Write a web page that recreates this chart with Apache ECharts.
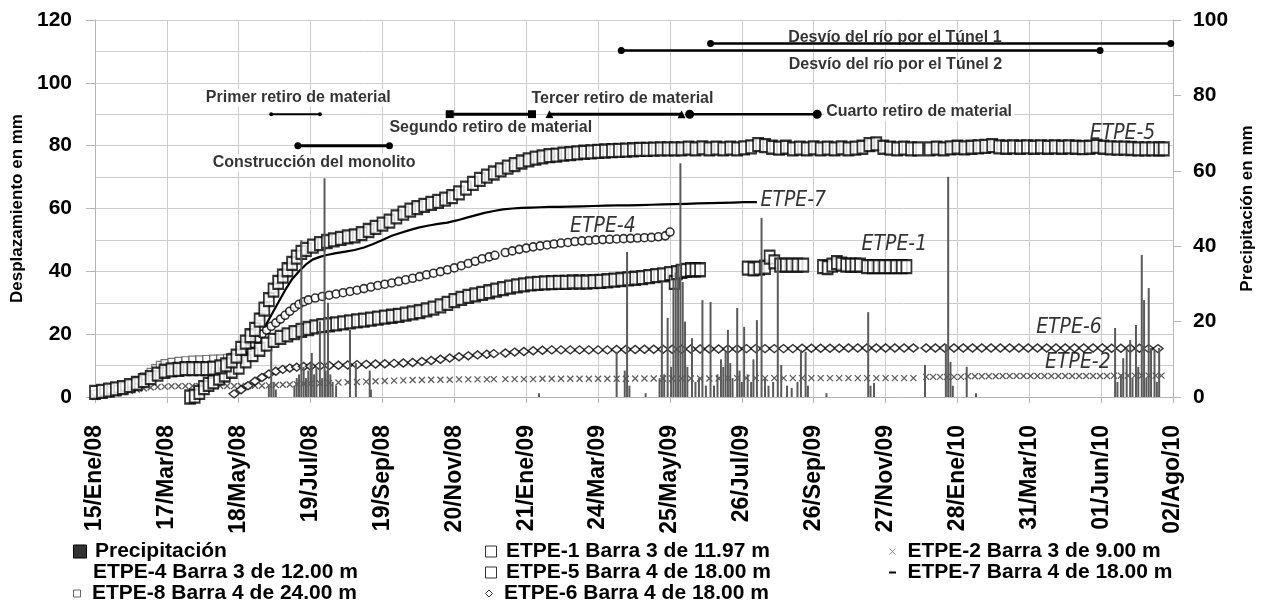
<!DOCTYPE html>
<html><head><meta charset="utf-8">
<script src="https://cdn.jsdelivr.net/npm/echarts/dist/echarts.min.js"></script>
<style>html,body{margin:0;padding:0;background:#fff}#c{width:1264px;height:605px}</style>
</head><body><div id="c"></div>
<script>
// ---------------- DATA (x = days since 15/Ene/08) ----------------
const tickLabels = ['15/Ene/08','17/Mar/08','18/May/08','19/Jul/08','19/Sep/08','20/Nov/08','21/Ene/09','24/Mar/09','25/May/09','26/Jul/09','26/Sep/09','27/Nov/09','28/Ene/10','31/Mar/10','01/Jun/10','02/Ago/10'];
const TICK_DAYS = 62;

const seriesNames = {
  precip: 'Precipitación',
  e1: 'ETPE-1 Barra 3 de 11.97 m',
  e2: 'ETPE-2 Barra 3 de 9.00 m',
  e4: 'ETPE-4 Barra 3 de 12.00 m',
  e5: 'ETPE-5 Barra 4 de 18.00 m',
  e7: 'ETPE-7 Barra 4 de 18.00 m',
  e8: 'ETPE-8 Barra 4 de 24.00 m',
  e6: 'ETPE-6 Barra 4 de 18.00 m'
};

const precipitacion = [
[150,3],[152,12],[154,4],[156,2],
[172,3],[174,5],[176,6],[178,41.6],[180,8],[182,5],[184,7],[186,9],[187,11.7],[189,6],[191,8],[194,20],[196,5],[198,58],[199,7],[201,25],[203,6],[205,4],[208,3],[220,17.8],[225,9],[237,7],[238,2],
[383,1],
[450,12],[457,7],[459,38.5],[461,3],[475,1],
[487,5],[489,30.5],[491,6],[494,21],[497,8],[499,31],[501,33],[503,35],[505,62],[507,30.5],[509,20],[511,8],[515,15.6],[518,4],[521,5],[524,25.7],[527,3],[531,25.2],[534,3],[537,6],[540,10],[542,8],[544,12],[546,17.8],[548,9],[550,5],[554,23.6],[556,7],[558,4],[560,18.6],[563,6],[566,4],[568,10],[571,20.4],[575,47.5],[578,5],[581,3],[585,4],[589,37.1],[592,8.5],[597,3],[601,2.4],[606,4],[609,12.5],[613,12],[615,3],[631,1],
[667,22.5],[669,3],[672,3.7],
[716,8.5],[734,14],[736,58.4],[738,9.3],[740,3],[752,8],[760,1],
[880,18.3],[882,4],[885,6],[887,10.3],[890,13],[893,15.1],[895,5],[898,19.1],[900,8],[903,37.7],[905,25.7],[907,5],[909,28.9],[911,13],[914,12.5],[916,4],[918,13]
];

const etpe5 = [
[0,1.5],[6,1.8],[12,2.2],[18,2.6],[24,3],[30,3.6],[36,4.3],[42,5.2],[48,6.2],[54,7.3],[60,8.2],[66,8.6],[72,8.8],[78,9],[84,9],[90,9],[96,9],[102,9.2],[108,9.6],[113,10.2],[118,11.5],[122,13],[126,15.5],[130,17.5],[134,19.5],[138,21.5],[142,24.5],[146,28],[150,31],[154,34],[158,36.5],[162,38.5],[166,40.5],[170,42.5],[174,44.5],[178,46],[182,47],[188,48],[194,48.8],[200,49.5],[206,50],[212,50.5],[218,51],[224,51.3],[230,52],[236,53],[242,54],[248,55],[254,56],[260,57.3],[266,58.5],[272,59.5],[278,60.3],[284,61],[290,61.6],[296,62.3],[302,63],[308,63.8],[314,65],[320,66.5],[326,68],[332,69.3],[338,70.3],[344,71.3],[350,72.3],[356,73.2],[362,74],[368,74.8],[374,75.5],[380,76],[386,76.4],[392,76.8],[398,77],[404,77.3],[410,77.5],[416,77.7],[422,77.9],[428,78],[434,78.2],[440,78.3],[446,78.4],[452,78.5],[458,78.6],[464,78.7],[470,78.8],[476,78.8],[482,78.9],[488,79],[494,79],[500,79],[506,79],[512,79.2],[518,79],[524,79.3],[530,79],[536,79.2],[542,79],[548,79.2],[554,79],[560,79.3],[566,79.6],[572,80.3],[578,80],[584,79.5],[590,79.2],[596,79.5],[602,79],[608,79.2],[614,79],[620,79.3],[626,79],[632,79.2],[638,79],[644,79.3],[650,79],[656,79.2],[662,79.5],[668,80.3],[674,80.6],[680,79.5],[686,79.2],[692,79],[698,79.2],[704,79],[710,79],
[720,79],[726,79.2],[732,79],[738,79.3],[744,79.5],[750,79.3],[756,79.5],[762,79.6],[768,79.8],[774,80],[780,79.6],[786,79.5],[792,79.6],[798,79.5],[804,79.6],[810,79.5],[816,79.6],[822,79.5],[828,79.6],[834,79.5],[840,79.6],[846,79.5],[852,79.4],[858,79.5],[864,79.8],[870,79.5],[876,79.3],[882,79.2],[888,79.2],[894,79.1],[900,79],[906,79],[912,79],[918,79],[922,79]
];

const etpe1 = [
[82,0],[86,0.3],[90,1.5],[94,3],[98,4],[102,4.8],[107,6],[112,7],[118,8.2],[124,9.5],[130,11.5],[136,13.5],[142,15.2],[148,16.8],[154,18],[160,19],[166,19.8],[172,20.5],[178,21.2],[184,21.8],[190,22.3],[196,22.7],[202,23],[208,23.3],[214,23.6],[220,23.9],[226,24.2],[232,24.5],[238,24.8],[244,25.1],[250,25.4],[256,25.7],[262,26],[268,26.4],[274,26.8],[280,27.2],[286,27.7],[292,28.3],[298,29],[304,29.8],[310,30.7],[316,31.4],[322,32],[328,32.5],[334,33],[340,33.5],[346,34],[352,34.5],[358,35],[364,35.4],[370,35.7],[376,36],[382,36.2],[388,36.3],[394,36.4],[400,36.5],[406,36.5],[412,36.6],[418,36.6],[424,36.6],[430,36.7],[436,36.8],[442,37],[448,37.2],[454,37.4],[460,37.6],[466,37.8],[472,38],[478,38.3],[484,38.6],[490,38.9],[496,39.3],[500,36.5],[502,39.6],[506,40],[510,40.3],[514,40.5],[518,40.5],[522,40.5],
[563,41],[568,40.8],[573,41],[578,41.3],[582,44.5],[586,43],[591,42],[596,42],[601,42],[606,42],[611,42],
[628,41.5],[632,41.2],[636,42],[640,42.8],[644,42.3],[648,42],[652,42],[656,42],[660,42],
[666,41.5],[671,41.5],[676,41.5],[681,41.5],[686,41.5],[691,41.5],[696,41.5],[700,41.5]
];

const etpe4 = [
[120,11],[124,12.5],[128,14],[132,15.5],[136,17],[140,18.5],[144,20],[148,21.3],[152,22.5],[156,23.6],[160,24.8],[164,26],[168,27.3],[172,28.5],[176,29.5],[180,30.3],[184,30.9],[190,31.5],[196,32],[202,32.4],[208,32.8],[214,33.2],[220,33.6],[226,34],[232,34.5],[238,35],[244,35.5],[250,35.9],[256,36.3],[262,36.8],[268,37.3],[274,37.8],[280,38.3],[286,38.9],[292,39.4],[298,39.9],[304,40.5],[310,41.1],[316,41.8],[322,42.5],[328,43.2],[334,44],[340,44.6],[345,45.1],
[354,46],[360,46.5],[366,47],[372,47.4],[378,47.8],[384,48.1],[390,48.4],[396,48.7],[402,49],[408,49.2],[414,49.5],[420,49.7],[426,49.8],[432,50],[438,50.1],[444,50.2],[450,50.3],[456,50.4],[462,50.5],[468,50.6],[474,50.7],[480,50.8],[486,51],[492,51.3],[496,52.5]
];

const etpe7 = [
[146,22],[152,26],[158,30],[164,34],[170,37.5],[176,40],[182,42.2],[188,43.8],[194,44.6],[200,45.2],[208,45.8],[216,46.3],[224,46.8],[232,47.6],[240,48.7],[248,50],[256,51.3],[264,52.3],[272,53.2],[280,54],[288,54.6],[296,55.1],[304,55.5],[312,56.2],[320,57],[328,57.8],[336,58.6],[344,59.2],[352,59.7],[360,60],[368,60.2],[376,60.3],[384,60.4],[392,60.5],[400,60.5],[410,60.6],[420,60.7],[430,60.8],[440,60.9],[450,61],[460,61],[470,61.1],[480,61.2],[490,61.3],[500,61.4],[510,61.5],[520,61.6],[530,61.7],[540,61.8],[550,61.9],[560,62],[571,62]
];

const etpe6 = [
[120,1],[126,2.3],[132,3.6],[138,5],[144,6.2],[150,7.3],[156,8.2],[162,8.8],[168,9.2],[174,9.5],[180,9.7],[186,9.8],[194,9.9],[202,10],[210,10.1],[218,10.2],[226,10.3],[234,10.4],[242,10.5],[250,10.6],[258,10.7],[266,10.8],[274,11],[282,11.3],[290,11.6],[298,12],[306,12.4],[314,12.8],[322,13.1],[330,13.4],[338,13.6],[344,13.8],
[354,14],[362,14.3],[370,14.5],[378,14.7],[386,14.9],[394,15],[402,15],[410,15],[418,15],[426,15],[434,15],[442,15],[450,15.1],[458,15.1],[466,15.1],[474,15.2],[482,15.2],[490,15.2],[498,15.2],[506,15.2],[514,15.3],[522,15.3],[530,15.3],[538,15.3],[546,15.3],[554,15.3],[562,15.4],[570,15.4],[578,15.4],[586,15.4],[594,15.4],[602,15.4],[610,15.5],[618,15.5],[626,15.5],[634,15.5],[642,15.5],[650,15.6],[658,15.6],[666,15.6],[674,15.6],[682,15.6],[690,15.6],[698,15.6],[706,15.6],
[717,15.6],[725,15.6],[733,15.6],[741,15.6],[749,15.6],[757,15.6],[765,15.6],[773,15.6],[781,15.6],[789,15.6],[797,15.6],[805,15.6],[813,15.6],[821,15.6],[829,15.6],[837,15.6],[845,15.6],[853,15.6],[861,15.6],[869,15.6],[877,15.5],[885,15.5],[893,15.5],[901,15.5],[909,15.4],[917,15.4]
];

const etpe2 = [
[0,0],[6,0.4],[12,0.8],[18,1.2],[24,1.6],[30,2],[36,2.4],[42,2.7],[48,3],[54,3.2],[60,3.3],[66,3.4],[72,3.4],[78,3.5],[84,3.5],[90,3.5],[96,3.5],[102,3.5],[108,3.5],[114,3.5],[120,3.5],[126,3.5],[132,3.5],[138,3.6],[144,3.6],[150,3.7],[156,3.8],[162,3.9],[168,4],[174,4.1],[180,4.2],[186,4.3],[194,4.4],[202,4.5],[210,4.6],[218,4.7],[226,4.8],[234,4.9],[242,5],[250,5.1],[258,5.2],[266,5.3],[274,5.4],[282,5.4],[290,5.5],[298,5.5],[306,5.5],[314,5.6],[322,5.6],[330,5.6],[338,5.6],[344,5.7],
[354,5.7],[362,5.7],[370,5.7],[378,5.7],[386,5.8],[394,5.8],[402,5.8],[410,5.8],[418,5.8],[426,5.8],[434,5.8],[442,5.8],[450,5.8],[458,5.8],[466,5.9],[474,5.9],[482,5.9],[490,5.9],[498,5.9],[506,5.9],[514,5.9],[522,5.9],[530,5.9],[538,5.9],[546,6],[554,6],[562,6],[570,6],[578,6],[586,6],[594,6],[602,6],[610,6],[618,6],[626,6],[634,6],[642,6],[650,6],[658,6],[666,6],[674,6],[682,6],[690,6],[698,6],[706,6],
[717,6.4],[723,6.4],[729,6.4],[735,6.4],[741,6.4],[747,6.4],[753,6.6],[759,6.6],[765,6.6],[771,6.6],[777,6.6],[783,6.7],[789,6.7],[795,6.7],[801,6.7],[807,6.7],[813,6.7],[819,6.7],[825,6.7],[831,6.7],[837,6.7],[843,6.7],[849,6.7],[855,6.7],[861,6.7],[867,6.7],[873,6.7],[879,6.8],[885,6.8],[891,6.8],[897,6.8],[903,6.8],[909,6.8],[915,6.8],[920,6.8]
];

const etpe8 = [
[0,1],[6,1.5],[12,2],[18,2.6],[24,3.3],[30,4.2],[36,5.3],[42,6.6],[48,8],[52,9.2],[56,10.2],[60,10.8],[66,11.2],[72,11.5],[78,11.7],[84,11.9],[90,12],[96,12.1],[102,12.2],[108,12.3],[114,12.5],[118,12.8],[122,13.5],[126,15],[130,17.5],[134,20],[138,22.5],[142,25.5],[146,28.5],[150,31.5],[154,34.5],[158,37],[162,39.5],[166,41.5],[170,43],[174,44.5]
];

// construction events (days since start, level in mm on left axis)
const eventNames = ['Primer retiro de material','Construcción del monolito','Segundo retiro de material','Tercer retiro de material','Cuarto retiro de material','Desvío del río por el Túnel 1','Desvío del río por el Túnel 2'];
const eventStart = [152, 175, 306, 392, 513, 531, 454];
const eventEnd   = [194, 254, 377, 506, 623, 928, 867];
const eventLevel = [90, 80, 90, 90, 90, 112.5, 110.3];

const curveLabels = ['ETPE-5','ETPE-7','ETPE-4','ETPE-1','ETPE-6','ETPE-2'];

// ---------------- LAYOUT / STYLE ----------------
const FONT = '"Liberation Sans", Arial, sans-serif';
const NARROW = '"DejaVu Sans Condensed", "Liberation Sans Narrow", "Liberation Sans", sans-serif';
const eventSymbol = ['circle','circle','rect','triangle','circle','circle','circle'];
const eventSymSize = [4,7,8,8,9,7,7];
const eventWidth = [2,3,3,3,2.5,2.5,2.5];
// text anchors in data space [day, mm] and alignment
const eventTextAnchor = [[175.4,95.2],[189,74.5],[341.4,85.9],[455,94.9],[629,90.7],[690,114.4],[690.5,105.7]];
const eventTextAlign = ['center','center','center','center','left','center','center'];
const eventTextBg = [true,true,true,true,true,false,false];
const curveLabelAnchor = [[886.4,83.7],[602.4,62.4],[438.1,54.4],[689.6,48.4],[840.2,22.0],[847.9,11.1]];

const GRID = '#cdcdcd';
const AXIS = '#b5b5b5';

const chart = echarts.init(document.getElementById('c'));

const series = [];
series.push({name: seriesNames.e8, type:'scatter', data: etpe8, symbol:'rect', symbolSize:7,
  itemStyle:{color:'#fff', borderColor:'#555', borderWidth:1.2}, z:2});
series.push({name: seriesNames.e2, type:'scatter', data: etpe2, symbol:'path://M0,0L10,10M10,0L0,10', symbolSize:6,
  itemStyle:{color:'rgba(0,0,0,0)', borderColor:'#333', borderWidth:1.3}, z:2});
series.push({name: seriesNames.e6, type:'scatter', data: etpe6, symbol:'diamond', symbolSize:[10,8],
  itemStyle:{color:'#fff', borderColor:'#000', borderWidth:1.5}, z:3});
series.push({name: seriesNames.e4, type:'scatter', data: etpe4, symbol:'circle', symbolSize:8,
  itemStyle:{color:'#fff', borderColor:'#000', borderWidth:1.6}, z:3});
series.push({name: seriesNames.e7, type:'line', data: etpe7, symbol:'none', showSymbol:false,
  lineStyle:{color:'#000', width:2.2}, itemStyle:{color:'#000'}, z:3});
series.push({name: seriesNames.e1, type:'scatter', data: etpe1, symbol:'rect', symbolSize:[10,13],
  itemStyle:{color:'#fff', borderColor:'#000', borderWidth:2}, z:4});
series.push({name: seriesNames.e5, type:'scatter', data: etpe5, symbol:'rect', symbolSize:[10,13],
  itemStyle:{color:'#fff', borderColor:'#000', borderWidth:2}, z:4});
series.push({name: seriesNames.precip, type:'bar', yAxisIndex:1, data: precipitacion, barWidth:2,
  itemStyle:{color:'#5a5a5a'}, z:6});

// event lines
eventNames.forEach((n,i)=>{
  series.push({name:'ev'+i, type:'line', silent:true, z:7,
    data:[[eventStart[i],eventLevel[i]],[eventEnd[i],eventLevel[i]]],
    symbol:eventSymbol[i], symbolSize:eventSymSize[i], showSymbol:true,
    lineStyle:{color:'#000', width:eventWidth[i]}, itemStyle:{color:'#000'}});
});
// event texts
series.push({name:'evText', type:'scatter', silent:true, z:8, symbolSize:0,
  data: eventNames.map((n,i)=>({name:n, value:eventTextAnchor[i],
    label:{show:true, position:'inside', formatter:'{b}', align:eventTextAlign[i], verticalAlign:'middle',
      fontSize:16, fontWeight:'bold', color:'#000', fontFamily:FONT,
      backgroundColor: eventTextBg[i] ? '#fff' : 'transparent', padding:[1,2]}}))});
// curve labels
series.push({name:'curveText', type:'scatter', silent:true, z:8, symbolSize:0,
  data: curveLabels.map((n,i)=>({name:n, value:curveLabelAnchor[i],
    label:{show:true, position:'inside', formatter:'{b}', align:'center', verticalAlign:'middle',
      fontSize:21, fontStyle:'italic', fontWeight:'normal', color:'#000', fontFamily:NARROW}}))});

// legends (one component per entry so each keeps its own marker size)
const legText = {fontSize:21, fontWeight:'bold', color:'#000', fontFamily:FONT, lineHeight:21};
function leg(name, left, top, icon, w, h, style){
  return {show:true, selectedMode:false, left:left, top:top, itemWidth:w, itemHeight:h, itemGap:0,
    symbolKeepAspect:true, padding:0, textStyle:legText,
    data:[{name:name, icon:icon, itemStyle:style}]};
}
const hollow = {color:'#fff', borderColor:'#000', borderWidth:1};
const legends = [
  leg(seriesNames.precip, 73, 541, 'path://M0,0H10V10H0Z', 20, 13, {color:'#333', borderColor:'#000', borderWidth:1}),
  leg(seriesNames.e4, 73, 562, 'path://M0,0H10V10H0Z', 20, 10, {color:'rgba(0,0,0,0)', borderColor:'rgba(0,0,0,0)', borderWidth:0, opacity:0}),
  leg(seriesNames.e8, 73, 583, 'path://M0,0H10V10H0Z', 20, 7, {color:'#fff', borderColor:'#444', borderWidth:1}),
  leg(seriesNames.e1, 485, 541, 'path://M0,0H10V10H0Z', 20, 11, hollow),
  leg(seriesNames.e5, 485, 562, 'path://M0,0H10V10H0Z', 20, 11, hollow),
  leg(seriesNames.e6, 485, 583, 'path://M5,0L10,5L5,10L0,5Z', 20, 7, hollow),
  leg(seriesNames.e2, 889, 541, 'path://M0,0L10,10M10,0L0,10', 20, 6, {color:'rgba(0,0,0,0)', borderColor:'#777', borderWidth:1}),
  leg(seriesNames.e7, 889, 562, 'path://M0,0H7V2H0Z', 20, 2, {color:'#000', borderColor:'#000', borderWidth:0})
];

const option = {
  animation:false,
  backgroundColor:'#fff',
  textStyle:{fontFamily:FONT, color:'#000'},
  grid:{left:95, right:82, top:20, bottom:208, containLabel:false},
  legend: legends,
  xAxis:{type:'value', min:0, max:TICK_DAYS*(tickLabels.length-1), interval:TICK_DAYS,
    axisLine:{show:true, lineStyle:{color:AXIS}},
    axisTick:{show:true, length:6, lineStyle:{color:AXIS}},
    axisLabel:{rotate:90, margin:28, fontSize:23, fontWeight:'bold', color:'#000',
      formatter:(v)=>tickLabels[Math.round(v/TICK_DAYS)] || ''},
    splitLine:{show:true, lineStyle:{color:GRID, width:1}}},
  yAxis:[
    {type:'value', min:0, max:120, interval:20, position:'left',
      name:'Desplazamiento en mm', nameLocation:'middle', nameGap:68, nameRotate:90,
      nameTextStyle:{fontSize:17, fontWeight:'bold', color:'#000'},
      axisLine:{show:true, lineStyle:{color:AXIS}},
      axisTick:{show:true, length:9, lineStyle:{color:AXIS}},
      axisLabel:{fontSize:21, fontWeight:'bold', color:'#000', margin:23},
      splitLine:{show:true, lineStyle:{color:GRID}},
      minorTick:{show:false, splitNumber:2},
      minorSplitLine:{show:true, lineStyle:{color:GRID}}},
    {type:'value', min:0, max:100, interval:20, position:'right',
      name:'Precipitación en mm', nameLocation:'middle', nameGap:55, nameRotate:90,
      nameTextStyle:{fontSize:17, fontWeight:'bold', color:'#000'},
      axisLine:{show:true, lineStyle:{color:AXIS}},
      axisTick:{show:true, length:8, lineStyle:{color:AXIS}},
      axisLabel:{fontSize:21, fontWeight:'bold', color:'#000', margin:20},
      splitLine:{show:false}}
  ],
  series: series
};
chart.setOption(option);
</script></body></html>
